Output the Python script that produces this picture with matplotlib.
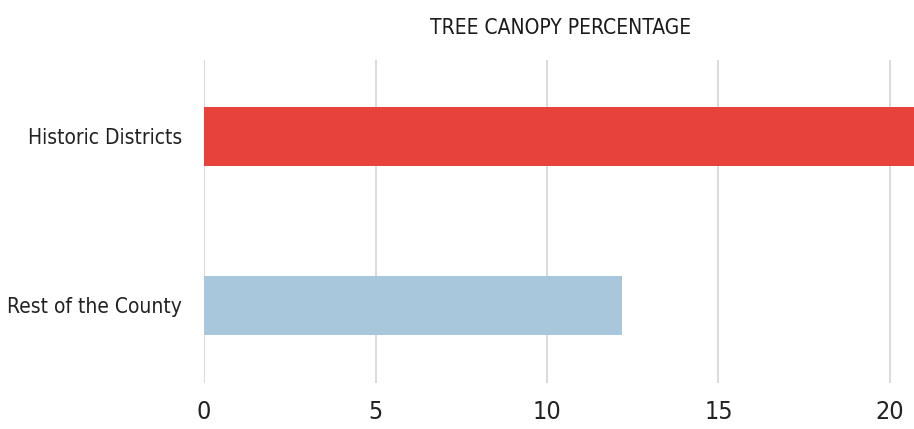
import matplotlib
matplotlib.use("Agg")
import matplotlib.pyplot as plt

categories = ["Historic Districts", "Rest of the County"]
canopy_pct = [21.8, 12.2]
bar_colors = ["#E8433B", "#A8C7DD"]
ticks = [0, 5, 10, 15, 20]

plt.rcParams['font.family'] = ['DejaVu Sans']
plt.rcParams['font.stretch'] = 'condensed'

fig = plt.figure(figsize=(9.14, 4.29), dpi=100)
ax = fig.add_axes([0.2232, 0.1072, 0.7768, 0.7528])

ax.barh(range(len(categories)), canopy_pct, height=0.35, color=bar_colors, zorder=2)

ax.set_xlim(0, 20.7)
ax.set_ylim(1.46, -0.45)
ax.set_xticks(ticks)
ax.set_yticks(range(len(categories)))
ax.set_yticklabels(categories)
ax.grid(axis='x', color='#d4d4d4', linewidth=1.2, zorder=0)
for s in ax.spines.values():
    s.set_visible(False)
ax.tick_params(length=0, colors='#222222')
ax.tick_params(axis='x', pad=12, labelsize=18)
ax.tick_params(axis='y', pad=16, labelsize=15)

fig.text(0.613, 0.935, "TREE CANOPY PERCENTAGE", ha='center', va='center',
         fontsize=15, color='#1a1a1a')

fig.savefig("out.png", dpi=100)
